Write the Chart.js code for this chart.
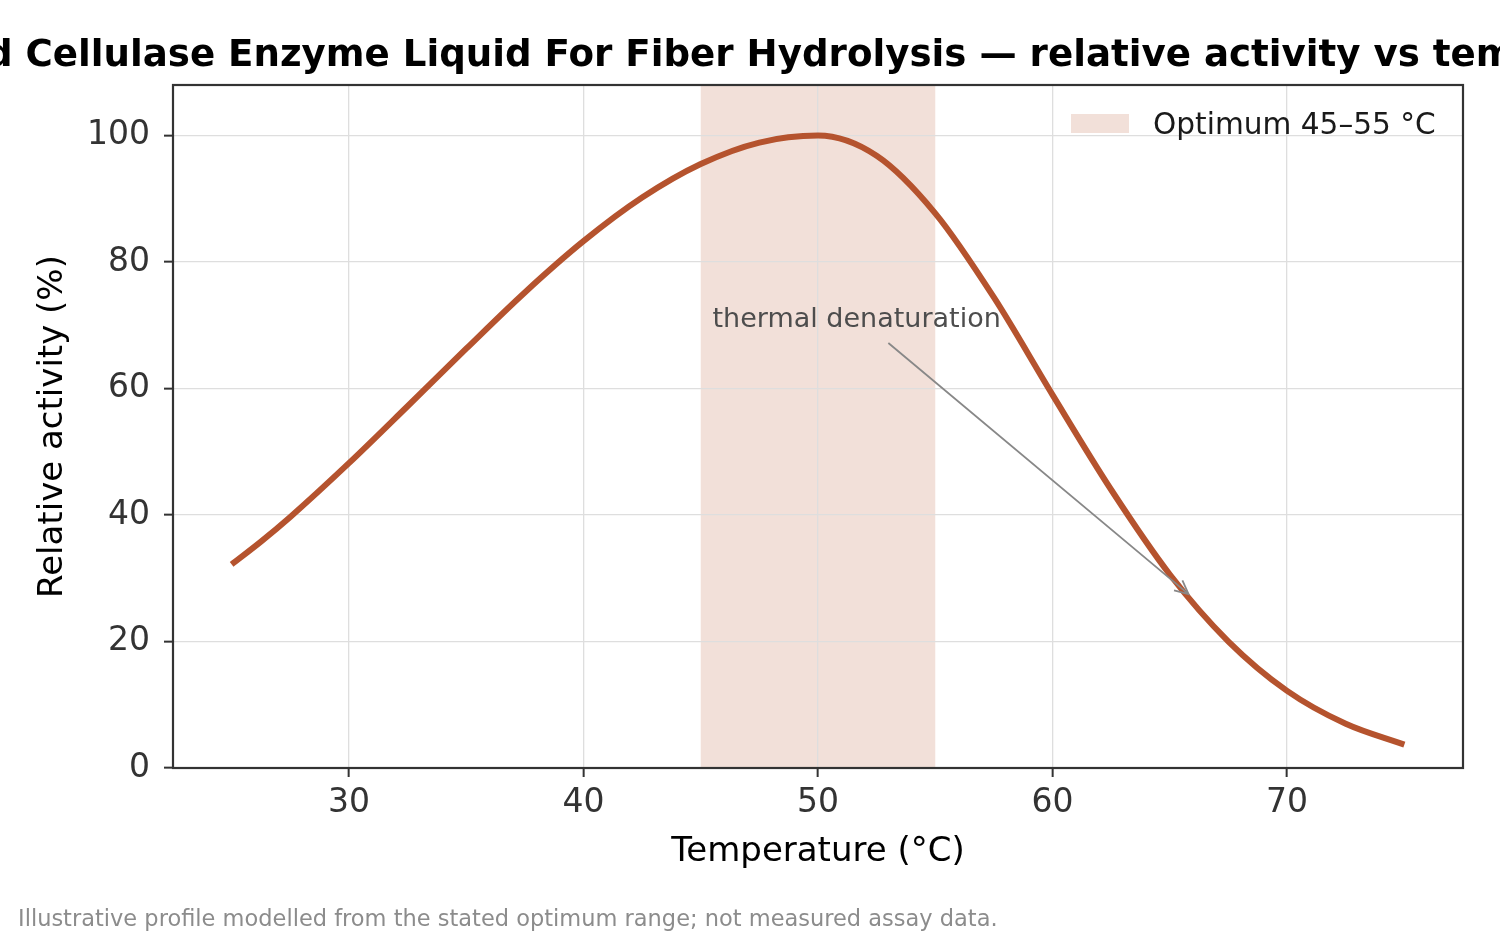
<!DOCTYPE html>
<html>
<head>
<meta charset="utf-8">
<script src="https://cdn.jsdelivr.net/npm/chart.js@4/dist/chart.umd.min.js"></script>
<style>
  html, body { margin: 0; padding: 0; background: #ffffff; }
  #wrap { width: 1500px; height: 937px; }
  canvas { display: block; background: #ffffff; }
</style>
</head>
<body>
<div id="wrap"><canvas id="c" width="1500" height="937"></canvas></div>
<script>
// ---- data ----
const temperatures = [25, 26.25, 27.5, 30, 32.5, 35, 37.5, 40, 42.5, 45, 47.5, 50, 52.5, 55, 57.5, 60, 62.5, 65, 67.5, 70, 72.5, 75];
const activity     = [32.2, 35.8, 39.7, 48.2, 57.2, 66.3, 75.2, 83.3, 90.2, 95.5, 98.9, 100, 96.8, 87.7, 74.4, 59.0, 44.0, 30.6, 20.0, 12.2, 7.0, 3.7];
const xTicks = [30, 40, 50, 60, 70];
const yTicks = [0, 20, 40, 60, 80, 100];
const xRange = [22.5, 77.5];
const yRange = [0, 108];
const optimumRange = [45, 55];
const annotationText = 'thermal denaturation';
const annotationTextAt = [45.5, 69.8];
const annotationArrowFrom = [53.0, 67.2];
const annotationArrowTo = [65.8, 27.5];

const titleText = 'Acid Cellulase Enzyme Liquid For Fiber Hydrolysis \u2014 relative activity vs temperature';
const legendText = 'Optimum 45\u201355 \u00b0C';
const footnoteText = 'Illustrative profile modelled from the stated optimum range; not measured assay data.';

const LINE = '#b5532e';
const SPAN = 'rgba(181, 83, 46, 0.18)';
const FONT = '"DejaVu Sans", "Liberation Sans", sans-serif';

const points = temperatures.map((t, i) => ({ x: t, y: activity[i] }));

const decor = {
  id: 'decor',
  beforeDraw(chart) {
    const { ctx, chartArea: a, scales: { x } } = chart;
    ctx.save();
    ctx.fillStyle = '#ffffff';
    ctx.fillRect(0, 0, chart.width, chart.height);
    const x0 = x.getPixelForValue(optimumRange[0]);
    const x1 = x.getPixelForValue(optimumRange[1]);
    ctx.fillStyle = SPAN;
    ctx.fillRect(x0, a.top, x1 - x0, a.bottom - a.top);
    ctx.restore();
  },
  afterDatasetsDraw(chart) {
    const { ctx, chartArea: a, scales: { x, y } } = chart;
    ctx.save();
    // annotation text
    ctx.font = '27px ' + FONT;
    ctx.fillStyle = '#4d4d4d';
    ctx.textAlign = 'left';
    ctx.textBaseline = 'alphabetic';
    ctx.fillText(annotationText, x.getPixelForValue(annotationTextAt[0]), y.getPixelForValue(annotationTextAt[1]));
    // annotation arrow
    const ax0 = x.getPixelForValue(annotationArrowFrom[0]), ay0 = y.getPixelForValue(annotationArrowFrom[1]);
    const ax1 = x.getPixelForValue(annotationArrowTo[0]), ay1 = y.getPixelForValue(annotationArrowTo[1]);
    ctx.strokeStyle = '#888888';
    ctx.lineWidth = 1.8;
    ctx.beginPath();
    ctx.moveTo(ax0, ay0);
    ctx.lineTo(ax1, ay1);
    const ang = Math.atan2(ay1 - ay0, ax1 - ax0);
    const hl = 15, hw = 0.45;
    ctx.moveTo(ax1 - hl * Math.cos(ang - hw), ay1 - hl * Math.sin(ang - hw));
    ctx.lineTo(ax1, ay1);
    ctx.lineTo(ax1 - hl * Math.cos(ang + hw), ay1 - hl * Math.sin(ang + hw));
    ctx.stroke();
    // spines
    ctx.strokeStyle = '#333333';
    ctx.lineWidth = 2.2;
    ctx.strokeRect(a.left, a.top, a.right - a.left, a.bottom - a.top);
    // legend
    ctx.fillStyle = SPAN;
    ctx.fillRect(1071, 114, 58, 19);
    ctx.font = '29.6px ' + FONT;
    ctx.fillStyle = '#1a1a1a';
    ctx.textBaseline = 'alphabetic';
    ctx.fillText(legendText, 1153, 134);
    // title
    ctx.font = 'bold 37.2px ' + FONT;
    ctx.fillStyle = '#000000';
    ctx.textAlign = 'center';
    ctx.fillText(titleText, (a.left + a.right) / 2 - 8, 66);
    // footnote
    ctx.font = '22.5px ' + FONT;
    ctx.fillStyle = '#8c8c8c';
    ctx.textAlign = 'left';
    ctx.fillText(footnoteText, 18, 926);
    ctx.restore();
  }
};

new Chart(document.getElementById('c'), {
  type: 'line',
  data: {
    datasets: [{
      label: 'Relative activity',
      data: points,
      borderColor: LINE,
      borderWidth: 6,
      pointRadius: 0,
      cubicInterpolationMode: 'monotone',
      fill: false
    }]
  },
  options: {
    responsive: false,
    animation: false,
    devicePixelRatio: 1,
    layout: { padding: { top: 85, right: 37, bottom: 0, left: 0 } },
    plugins: { legend: { display: false }, title: { display: false }, tooltip: { enabled: false } },
    scales: {
      x: {
        type: 'linear',
        min: xRange[0], max: xRange[1],
        afterBuildTicks: s => { s.ticks = xTicks.map(v => ({ value: v })); },
        afterFit: s => { s.height = 169; },
        grid: { color: '#dedede', lineWidth: 1.3, tickColor: '#333333', tickWidth: 2, tickLength: 9, drawTicks: true },
        border: { display: false },
        ticks: { color: '#333333', font: { family: FONT, size: 33 }, padding: 7, maxRotation: 0, autoSkip: false },
        title: { display: true, text: 'Temperature (\u00b0C)', color: '#000000', font: { family: FONT, size: 34, lineHeight: 1.2 }, padding: { top: 0, bottom: 64 } }
      },
      y: {
        type: 'linear',
        min: yRange[0], max: yRange[1],
        afterBuildTicks: s => { s.ticks = yTicks.map(v => ({ value: v })); },
        afterFit: s => { s.width = 173; },
        grid: { color: '#dedede', lineWidth: 1.3, tickColor: '#333333', tickWidth: 2, tickLength: 9, drawTicks: true },
        border: { display: false },
        ticks: { color: '#333333', font: { family: FONT, size: 33 }, padding: 14, autoSkip: false },
        title: { display: true, text: 'Relative activity (%)', color: '#000000', font: { family: FONT, size: 34, lineHeight: 1.2 }, padding: { top: 33, bottom: 0 } }
      }
    }
  },
  plugins: [decor]
});
</script>
</body>
</html>
